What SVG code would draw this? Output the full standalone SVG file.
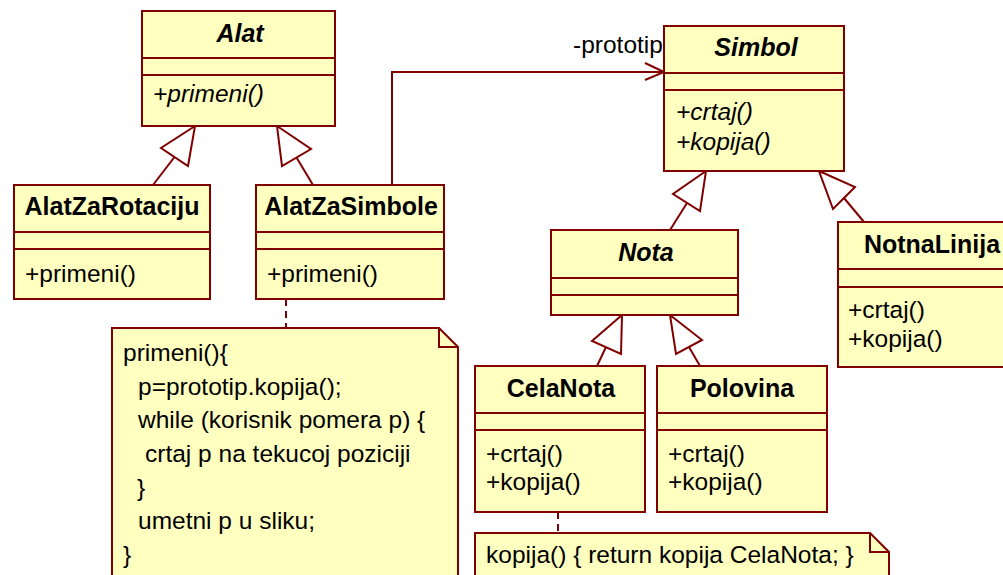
<svg xmlns="http://www.w3.org/2000/svg" width="1003" height="575" viewBox="0 0 1003 575">
<style>
.box{fill:#ffffc0;stroke:#800000;stroke-width:2}
.ln{fill:none;stroke:#800000;stroke-width:2}
.tri{fill:#ffffff;stroke:#800000;stroke-width:2;stroke-linejoin:miter}
.dash{fill:none;stroke:#800000;stroke-width:2;stroke-dasharray:7,5}
text{font-family:"Liberation Sans",Arial,sans-serif;font-size:24.5px;fill:#000}
.t{font-weight:bold;text-anchor:middle;font-size:25px}
.ti{font-weight:bold;font-style:italic;text-anchor:middle;font-size:25px}
.i{font-style:italic}
</style>
<rect width="1003" height="575" fill="#ffffff"/>
<g id="connectors">
<line class="ln" x1="174.5" y1="157" x2="153" y2="185"/>
<polygon class="tri" points="195,126 161,148 188,166"/>
<line class="ln" x1="296.5" y1="157.5" x2="313" y2="185"/>
<polygon class="tri" points="277,126 311,149 282,166"/>
<polyline class="ln" points="392,185 392,72 664,72"/>
<polyline class="ln" points="645,63 664,72 645,80"/>
<text x="573" y="53">-prototip</text>
<line class="ln" x1="687" y1="203" x2="670" y2="230"/>
<polygon class="tri" points="706,171 673,194 700,211"/>
<line class="ln" x1="844" y1="198" x2="864" y2="222"/>
<polygon class="tri" points="819,171 855,187 833,209"/>
<line class="ln" x1="606" y1="347" x2="597" y2="366"/>
<polygon class="tri" points="622,315 592,341 621,354"/>
<line class="ln" x1="689" y1="347" x2="700" y2="366"/>
<polygon class="tri" points="670,315 702,340 676,354"/>
<line class="dash" x1="286" y1="299" x2="286" y2="328"/>
<line class="dash" x1="558" y1="512" x2="558" y2="533"/>
</g>
<g id="Alat">
<rect class="box" x="142" y="11" width="193" height="115"/>
<line class="ln" x1="142" y1="58" x2="335" y2="58"/>
<line class="ln" x1="142" y1="75" x2="335" y2="75"/>
<text class="ti" x="240" y="42">Alat</text>
<text class="i" x="153" y="102">+primeni()</text>
</g>
<g id="AlatZaRotaciju">
<rect class="box" x="14" y="185" width="196" height="114"/>
<line class="ln" x1="14" y1="232" x2="210" y2="232"/>
<line class="ln" x1="14" y1="249" x2="210" y2="249"/>
<text class="t" x="112" y="215">AlatZaRotaciju</text>
<text x="25" y="282">+primeni()</text>
</g>
<g id="AlatZaSimbole">
<rect class="box" x="256" y="185" width="188" height="114"/>
<line class="ln" x1="256" y1="232" x2="444" y2="232"/>
<line class="ln" x1="256" y1="249" x2="444" y2="249"/>
<text class="t" x="351" y="215">AlatZaSimbole</text>
<text x="267" y="282">+primeni()</text>
</g>
<g id="Simbol">
<rect class="box" x="664" y="26" width="180" height="145"/>
<line class="ln" x1="664" y1="73" x2="844" y2="73"/>
<line class="ln" x1="664" y1="90" x2="844" y2="90"/>
<text class="ti" x="756" y="56">Simbol</text>
<text class="i" x="676" y="120">+crtaj()</text>
<text class="i" x="676" y="150">+kopija()</text>
</g>
<g id="Nota">
<rect class="box" x="551" y="230" width="187" height="85"/>
<line class="ln" x1="551" y1="278" x2="738" y2="278"/>
<line class="ln" x1="551" y1="295" x2="738" y2="295"/>
<text class="ti" x="646" y="261">Nota</text>
</g>
<g id="NotnaLinija">
<rect class="box" x="838" y="222" width="190" height="145"/>
<line class="ln" x1="838" y1="269" x2="1028" y2="269"/>
<line class="ln" x1="838" y1="287" x2="1028" y2="287"/>
<text class="t" x="932" y="253">NotnaLinija</text>
<text x="848" y="318">+crtaj()</text>
<text x="848" y="347">+kopija()</text>
</g>
<g id="CelaNota">
<rect class="box" x="475" y="366" width="170" height="146"/>
<line class="ln" x1="475" y1="413" x2="645" y2="413"/>
<line class="ln" x1="475" y1="430" x2="645" y2="430"/>
<text class="t" x="561" y="397">CelaNota</text>
<text x="486" y="462">+crtaj()</text>
<text x="486" y="490">+kopija()</text>
</g>
<g id="Polovina">
<rect class="box" x="657" y="366" width="170" height="146"/>
<line class="ln" x1="657" y1="413" x2="827" y2="413"/>
<line class="ln" x1="657" y1="430" x2="827" y2="430"/>
<text class="t" x="742" y="397">Polovina</text>
<text x="668" y="462">+crtaj()</text>
<text x="668" y="490">+kopija()</text>
</g>
<g id="note1">
<path class="box" d="M112,580 L112,328 L439,328 L458,347 L458,580"/>
<polyline class="ln" points="439,328 439,347 458,347"/>
<text x="123" y="361">primeni(){</text>
<text x="138" y="395">p=prototip.kopija();</text>
<text x="138" y="428">while (korisnik pomera p) {</text>
<text x="145" y="462">crtaj p na tekucoj poziciji</text>
<text x="137" y="496">}</text>
<text x="138" y="529">umetni p u sliku;</text>
<text x="123" y="563">}</text>
</g>
<g id="note2">
<path class="box" d="M475,580 L475,533 L870,533 L889,552 L889,580"/>
<polyline class="ln" points="870,533 870,552 889,552"/>
<text x="486" y="563">kopija() { return kopija CelaNota; }</text>
</g>
</svg>
